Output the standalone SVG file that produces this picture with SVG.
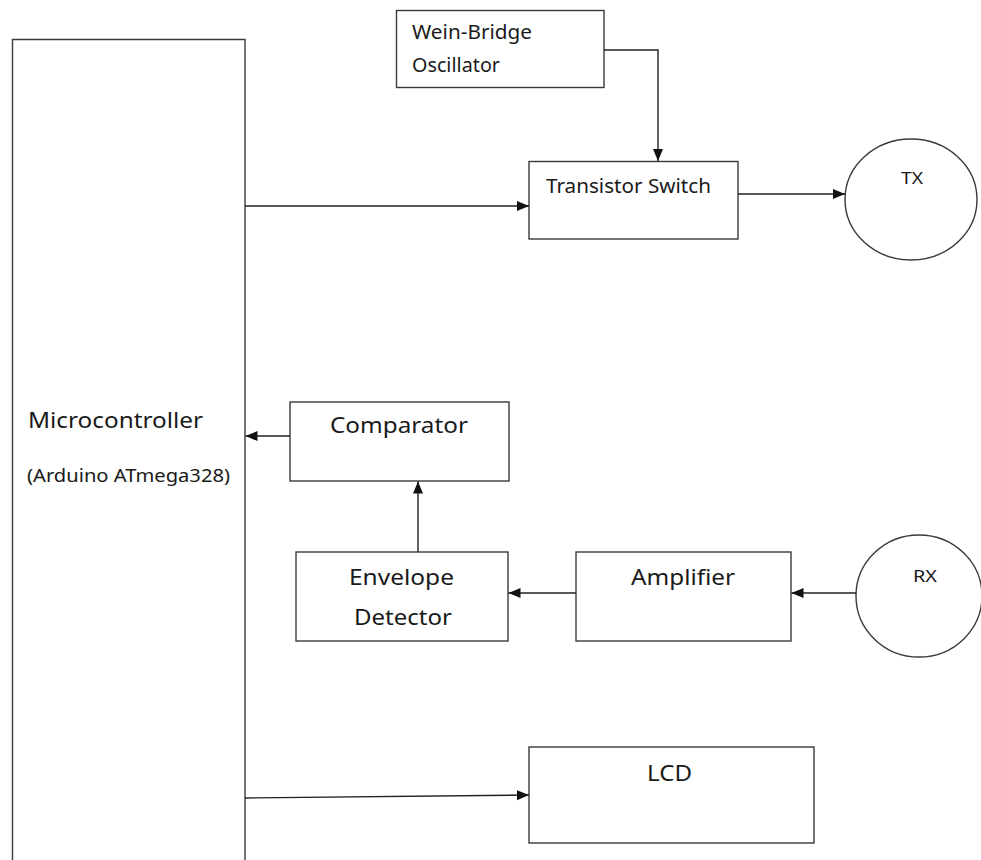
<svg xmlns="http://www.w3.org/2000/svg" width="981" height="860" viewBox="0 0 981 860">
<style>
.box{fill:#fff;stroke:#3a3a3a;stroke-width:1.4}
.conn{fill:none;stroke:#222;stroke-width:1.4}
.t{font-family:"Noto Sans","Open Sans",sans-serif;fill:#1a1a1a}
.t19{font-size:20px}
.t20{font-size:21px}
.t21{font-size:22px}
.t17{font-size:17.5px}
.t16{font-size:16.5px}
</style>
<defs>
<marker id="arr" markerUnits="userSpaceOnUse" markerWidth="14" markerHeight="12" refX="12" refY="6" orient="auto">
<path d="M0,1 L12,6 L0,11 z" fill="#111"/>
</marker>
</defs>
<rect width="981" height="860" fill="#fff"/>
<g id="microcontroller">
<path class="box" d="M12.5,870 L12.5,39.5 L245,39.5 L245,870"/>
<text class="t t21" x="28" y="428" textLength="175" lengthAdjust="spacingAndGlyphs">Microcontroller</text>
<text class="t t17" x="27" y="482" textLength="203" lengthAdjust="spacingAndGlyphs">(Arduino ATmega328)</text>
</g>
<g id="wein-bridge">
<rect class="box" x="396.5" y="10.5" width="207.5" height="77"/>
<text class="t t19" x="412" y="39" textLength="120" lengthAdjust="spacingAndGlyphs">Wein-Bridge</text>
<text class="t t19" x="412" y="72" textLength="88" lengthAdjust="spacingAndGlyphs">Oscillator</text>
</g>
<g id="transistor-switch">
<rect class="box" x="529" y="161.5" width="209" height="77.5"/>
<text class="t t19" x="546" y="193" textLength="165" lengthAdjust="spacingAndGlyphs">Transistor Switch</text>
</g>
<g id="tx">
<ellipse class="box" cx="911" cy="199.5" rx="66" ry="60.5"/>
<text class="t t16" x="901" y="184" textLength="22" lengthAdjust="spacingAndGlyphs">TX</text>
</g>
<g id="comparator">
<rect class="box" x="290" y="402" width="219" height="79"/>
<text class="t t20" x="330" y="433" textLength="138" lengthAdjust="spacingAndGlyphs">Comparator</text>
</g>
<g id="envelope-detector">
<rect class="box" x="296" y="552" width="212" height="89"/>
<text class="t t20" x="349" y="585" textLength="105" lengthAdjust="spacingAndGlyphs">Envelope</text>
<text class="t t20" x="354" y="625" textLength="98" lengthAdjust="spacingAndGlyphs">Detector</text>
</g>
<g id="amplifier">
<rect class="box" x="576" y="552" width="215" height="89"/>
<text class="t t20" x="631" y="585" textLength="104" lengthAdjust="spacingAndGlyphs">Amplifier</text>
</g>
<g id="rx">
<ellipse class="box" cx="919" cy="596" rx="63" ry="61"/>
<text class="t t16" x="913" y="582" textLength="24" lengthAdjust="spacingAndGlyphs">RX</text>
</g>
<g id="lcd">
<rect class="box" x="529" y="747" width="285" height="96"/>
<text class="t t20" x="647" y="781" textLength="45" lengthAdjust="spacingAndGlyphs">LCD</text>
</g>
<g id="connectors">
<path class="conn" d="M604,50 L658,50 L658,161" marker-end="url(#arr)"/>
<path class="conn" d="M245,206 L529,206" marker-end="url(#arr)"/>
<path class="conn" d="M738,194 L845,194" marker-end="url(#arr)"/>
<path class="conn" d="M290,436 L245.5,436" marker-end="url(#arr)"/>
<path class="conn" d="M418,552 L418,481.5" marker-end="url(#arr)"/>
<path class="conn" d="M576,593 L508.5,593" marker-end="url(#arr)"/>
<path class="conn" d="M856,593 L791.5,593" marker-end="url(#arr)"/>
<path class="conn" d="M245,798 L529,795" marker-end="url(#arr)"/>
</g>
</svg>
